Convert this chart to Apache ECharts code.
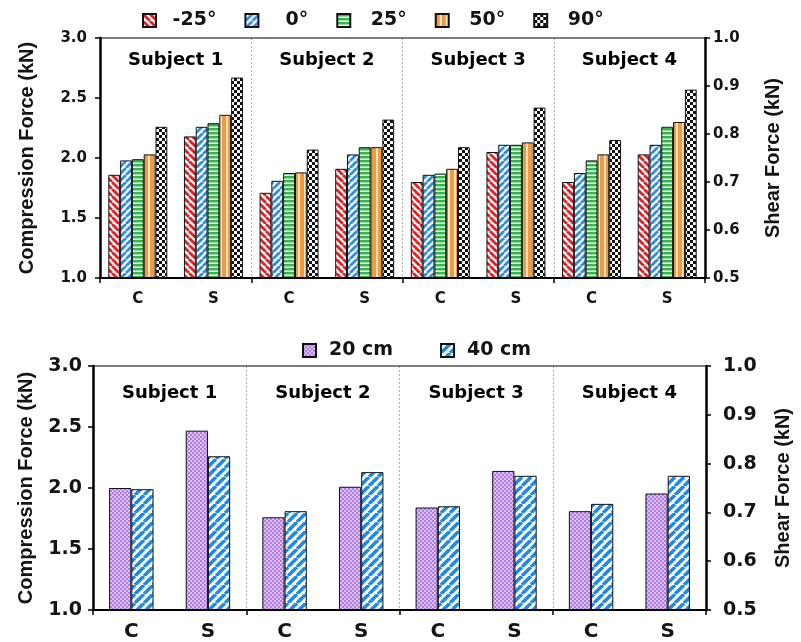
<!DOCTYPE html>
<html>
<head>
<meta charset="utf-8">
<script src="https://cdn.jsdelivr.net/npm/echarts@6/dist/echarts.min.js"></script>
<style>
  html, body { margin: 0; padding: 0; background: #fff; }
  #chart { width: 801px; height: 642px; }
</style>
</head>
<body>
<div id="chart"></div>
<script>
// ---- data ----
const subjects = ['Subject 1', 'Subject 2', 'Subject 3', 'Subject 4'];
const categories = ['C', 'S', 'C', 'S', 'C', 'S', 'C', 'S'];

// trunk angle conditions (compression force, kN)
const angleNames = ['-25°', '0°', '25°', '50°', '90°'];
const angleM25 = [1.86, 2.18, 1.71, 1.91, 1.80, 2.05, 1.80, 2.03];
const angle0   = [1.98, 2.26, 1.81, 2.03, 1.86, 2.11, 1.875, 2.11];
const angle25  = [1.99, 2.29, 1.875, 2.09, 1.87, 2.11, 1.98, 2.26];
const angle50  = [2.03, 2.36, 1.88, 2.09, 1.91, 2.13, 2.03, 2.30];
const angle90  = [2.26, 2.67, 2.07, 2.32, 2.09, 2.42, 2.15, 2.57];

// lifting height conditions (compression force, kN)
const heightNames = ['20 cm', '40 cm'];
const height20 = [2.00, 2.47, 1.76, 2.01, 1.84, 2.14, 1.81, 1.955];
const height40 = [1.99, 2.26, 1.81, 2.13, 1.85, 2.10, 1.87, 2.10];

// axis ranges
const compressionRange = [1.0, 3.0, 0.5];
const shearRange = [0.5, 1.0, 0.1];

// ---- fill patterns ----
function tile(size, draw) {
  const c = document.createElement('canvas');
  c.width = size; c.height = size;
  const ctx = c.getContext('2d');
  draw(ctx, size);
  return { image: c, repeat: 'repeat' };
}
function diagonal(color, bg, size, lw, rising) {
  return tile(size, (ctx, s) => {
    ctx.fillStyle = bg; ctx.fillRect(0, 0, s, s);
    ctx.strokeStyle = color; ctx.lineWidth = lw;
    for (let k = -1; k <= 1; k++) {
      ctx.beginPath();
      if (rising) { ctx.moveTo(k * s, s); ctx.lineTo(k * s + s, 0); }
      else { ctx.moveTo(k * s, 0); ctx.lineTo(k * s + s, s); }
      ctx.stroke();
    }
  });
}
const patRed = diagonal('#e32026', '#ffffff', 7, 2.8, false);
const patBlue = diagonal('#2f8de4', '#ffffff', 7, 2.8, true);
const patGreen = tile(4, (ctx, s) => {
  ctx.fillStyle = '#ffffff'; ctx.fillRect(0, 0, s, s);
  ctx.fillStyle = '#33b94a'; ctx.fillRect(0, 0, s, 2.5);
});
const patOrange = tile(6, (ctx, s) => {
  ctx.fillStyle = '#f29b3e'; ctx.fillRect(0, 0, s, s);
  ctx.fillStyle = '#fde6cc'; ctx.fillRect(4, 0, 2, s);
});
const patChecker = tile(6, (ctx, s) => {
  ctx.fillStyle = '#ffffff'; ctx.fillRect(0, 0, s, s);
  ctx.fillStyle = '#111111';
  ctx.fillRect(0, 0, 3, 3); ctx.fillRect(3, 3, 3, 3);
});
const patPurple = tile(4, (ctx, s) => {
  ctx.fillStyle = '#dcbff4'; ctx.fillRect(0, 0, s, s);
  ctx.fillStyle = '#b07ee2';
  ctx.fillRect(0, 0, 2, 2); ctx.fillRect(2, 2, 2, 2);
});
const patBlueWide = diagonal('#1e8ae6', '#ffffff', 9, 3.5, true);

// ---- styling helpers ----
const TEXT = '#141414';
const WIDE = 'DejaVu Sans';
const NARROW = 'Liberation Sans, Arial, sans-serif';

function valueAxis(grid, range, side, labelSize, margin, name, nameGap) {
  return {
    gridIndex: grid, type: 'value', position: side,
    min: range[0], max: range[1], interval: range[2], z: 5,
    axisLine: { show: true, lineStyle: { color: '#000', width: 2.5 } },
    axisTick: { show: true, length: 5, lineStyle: { color: '#000', width: 1.5 } },
    splitLine: { show: false },
    axisLabel: {
      margin: margin, color: TEXT, fontSize: labelSize, fontWeight: 'bold', fontFamily: WIDE,
      formatter: v => v.toFixed(1)
    },
    name: name, nameLocation: 'middle', nameRotate: 90, nameGap: nameGap,
    nameTextStyle: { color: TEXT, fontSize: 20, fontWeight: 'bold', fontFamily: NARROW }
  };
}
function categoryAxis(grid, labelSize, margin) {
  return {
    gridIndex: grid, type: 'category', data: categories, position: 'bottom', z: 4,
    axisLine: { show: true, lineStyle: { color: '#000', width: 2 } },
    axisTick: { show: true, interval: i => i % 2 === 0, length: 5, lineStyle: { color: '#000', width: 1.5 } },
    axisLabel: { interval: 0, margin: margin, color: TEXT, fontSize: labelSize, fontWeight: 'bold', fontFamily: WIDE },
    splitLine: { show: false }
  };
}
function subjectAxis(grid) {
  return {
    gridIndex: grid, type: 'category', data: subjects, position: 'top',
    axisLine: { show: true, lineStyle: { color: '#555', width: 1.5 } },
    axisTick: { show: false },
    axisLabel: { show: false },
    splitLine: { show: true, lineStyle: { color: '#b0b0b0', width: 1, type: [2, 2] } }
  };
}
function legendFor(names, left, top, textWidth, gap) {
  return {
    data: names, left: left, top: top, padding: 0, orient: 'horizontal',
    icon: 'rect', itemWidth: 13, itemHeight: 13, itemGap: gap,
    formatter: n => '{t|' + n + '}',
    textStyle: {
      rich: { t: { width: textWidth, align: 'center', color: TEXT, fontSize: 19, fontWeight: 'bold', fontFamily: WIDE } }
    },
    selectedMode: false
  };
}
function bars(name, values, fill, xi, yi, catGap) {
  return {
    name: name, type: 'bar', data: values, xAxisIndex: xi, yAxisIndex: yi,
    barGap: '0%', barCategoryGap: catGap,
    itemStyle: { color: fill, borderColor: '#111', borderWidth: 1 },
    emphasis: { disabled: true }, animation: false
  };
}
// subject captions drawn as labels of invisible points at each subject's centre
function subjectLabels(xi, yi, level) {
  return {
    type: 'scatter', xAxisIndex: xi, yAxisIndex: yi, silent: true, animation: false,
    symbol: 'circle', symbolSize: 2, z: 6,
    itemStyle: { color: '#ffffff', opacity: 1 },
    data: subjects.map(s => [s, level]),
    label: {
      show: true, position: 'inside', formatter: p => p.value[0], opacity: 1,
      color: '#000', fontSize: 18, fontWeight: 'bold', fontFamily: WIDE,
      textBorderWidth: 0
    },
    emphasis: { disabled: true }
  };
}

const angleFills = [patRed, patBlue, patGreen, patOrange, patChecker];
const angleSeries = [angleM25, angle0, angle25, angle50, angle90];
const heightFills = [patPurple, patBlueWide];
const heightSeries = [height20, height40];

const option = {
  backgroundColor: '#fff',
  animation: false,
  legend: [
    legendFor(angleNames, 142, 11, 67, 28),
    legendFor(heightNames, 302, 341, 80, 47)
  ],
  grid: [
    { left: 100, right: 96, top: 38, height: 240 },
    { left: 93, right: 88, top: 366, height: 245 }
  ],
  xAxis: [
    categoryAxis(0, 15, 14),
    subjectAxis(0),
    categoryAxis(1, 20, 12),
    subjectAxis(1)
  ],
  yAxis: [
    valueAxis(0, compressionRange, 'left', 15, 13, 'Compression Force (kN)', 63),
    valueAxis(0, shearRange, 'right', 15, 8, 'Shear Force (kN)', 58),
    valueAxis(1, compressionRange, 'left', 19, 11, 'Compression Force (kN)', 57),
    valueAxis(1, shearRange, 'right', 19, 17, 'Shear Force (kN)', 67)
  ],
  series: [
    ...angleNames.map((n, i) => bars(n, angleSeries[i], angleFills[i], 0, 0, '22%')),
    ...heightNames.map((n, i) => bars(n, heightSeries[i], heightFills[i], 2, 2, '42%')),
    subjectLabels(1, 0, 2.81),
    subjectLabels(3, 2, 2.78)
  ]
};

const chart = echarts.init(document.getElementById('chart'), null, { renderer: 'canvas' });
chart.setOption(option);
</script>
</body>
</html>
